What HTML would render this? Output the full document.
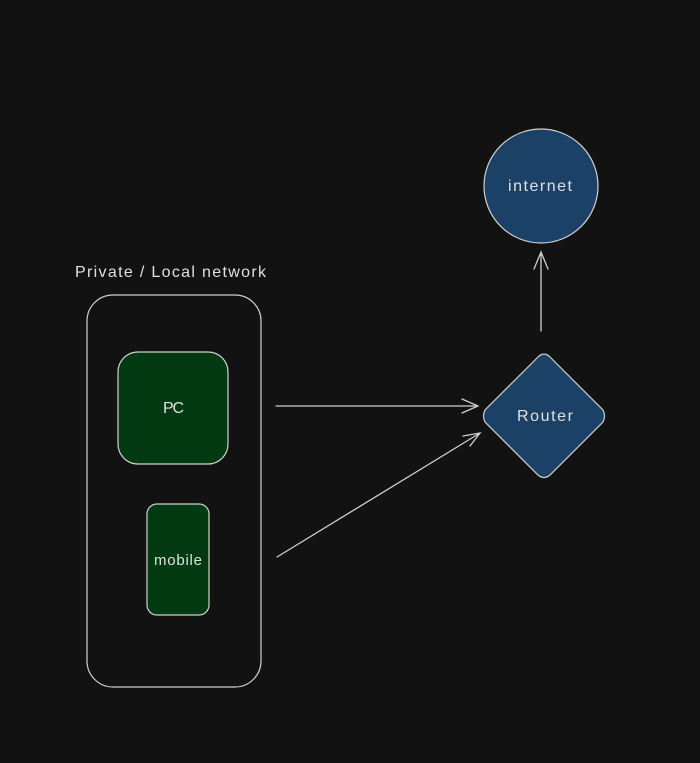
<!DOCTYPE html>
<html><head><meta charset="utf-8"><style>
html,body{margin:0;padding:0;background:#121212;}
svg{display:block}
text{font-family:"Liberation Sans",sans-serif;fill:#e0e0e0;}
</style></head><body>
<svg width="700" height="763" viewBox="0 0 700 763" xmlns="http://www.w3.org/2000/svg">
<rect width="700" height="763" fill="#121212"/>
<text x="75" y="277" font-size="16" textLength="191" lengthAdjust="spacing">Private / Local network</text>
<rect x="87" y="295" width="174" height="392" rx="26" fill="none" stroke="#d0d0d0" stroke-width="1.2"/>
<rect x="118" y="352" width="110" height="112" rx="20" fill="#043a12" stroke="#d0d0d0" stroke-width="1.2"/>
<text x="163" y="413" font-size="16" textLength="21" lengthAdjust="spacing">PC</text>
<rect x="147" y="504" width="62" height="111" rx="10" fill="#043a12" stroke="#d0d0d0" stroke-width="1.2"/>
<text x="154" y="565" font-size="15" textLength="48" lengthAdjust="spacing">mobile</text>
<path d="M544 354 Q547 354 550 357 L603 410 Q606 416 603 422 L550 475 Q544 480 538 475 L485 422 Q482 416 485 410 L538 357 Q541 354 544 354Z" fill="#1b4266" stroke="#d0d0d0" stroke-width="1.2"/>
<text x="517" y="421" font-size="16" textLength="56" lengthAdjust="spacing">Router</text>
<circle cx="541" cy="186" r="57" fill="#1b4266" stroke="#d0d0d0" stroke-width="1.2"/>
<text x="508" y="191" font-size="16" textLength="64" lengthAdjust="spacing">internet</text>
<g stroke="#d0d0d0" stroke-width="1.3" fill="none" stroke-linecap="round">
<path d="M276 406 L478 406 M462 399 L478 406 L462 413"/>
<path d="M277 557 L480 433 M463 436 L480 433 L470 446"/>
<path d="M541 331 L541 252 M534 269 L541 252 L548 269"/>
</g>
</svg>
</body></html>
